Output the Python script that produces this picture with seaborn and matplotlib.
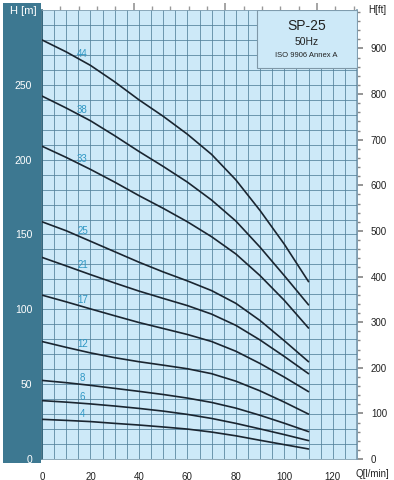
import matplotlib
matplotlib.use("Agg")
import matplotlib.pyplot as plt
from matplotlib.patches import Rectangle
import numpy as np
import pandas as pd
import seaborn as sns

# flow points (l/min) and head (m) per number of stages
flow = [0, 10, 20, 30, 40, 50, 60, 70, 80, 90, 100, 110]
h_44 = [280, 272, 263, 252, 240, 229, 217, 203.5, 186.5, 166, 143.5, 118.5]
h_38 = [242.5, 234.5, 226, 216, 205.5, 195.5, 185, 173, 159, 141.5, 122.5, 103]
h_33 = [209, 201.5, 193.5, 185, 176, 167.5, 158.5, 148.5, 137, 122.5, 106, 87.5]
h_25 = [158.5, 152.5, 145.5, 138.5, 131.5, 125, 119, 112.5, 104, 92.5, 79, 65]
h_21 = [134.7, 129, 123.2, 117.6, 112.2, 107.3, 102.5, 96.8, 89.3, 79.5, 68.5, 57]
h_17 = [109.5, 105, 100.3, 95.7, 91.2, 87.2, 83.2, 78.5, 72, 63.8, 54.7, 45]
h_12 = [78.5, 74.6, 70.9, 67.7, 65, 62.7, 60.3, 57, 52, 45.5, 38, 30]
h_8 = [52.5, 51, 49.2, 47.2, 45.2, 43.1, 40.7, 37.8, 34, 29.2, 23.9, 18.3]
h_6 = [39, 38, 36.8, 35.4, 33.8, 32, 29.8, 27.1, 23.8, 20.1, 16.3, 12.3]
h_4 = [26.5, 25.8, 25, 23.8, 22.7, 21.4, 20, 18, 15.5, 12.5, 9.6, 6.7]

stages = ["44", "38", "33", "25", "21", "17", "12", "8", "6", "4"]
heads = [h_44, h_38, h_33, h_25, h_21, h_17, h_12, h_8, h_6, h_4]

df = pd.DataFrame({
    "Q": flow * len(stages),
    "H": [h for hs in heads for h in hs],
    "stages": [s for s in stages for _ in flow],
})

sns.set_theme(style="white")
plt.rcParams["font.family"] = ["Liberation Sans", "DejaVu Sans"]

W, H = 394, 480
fig = plt.figure(figsize=(W / 100, H / 100), dpi=100)
fig.patch.set_facecolor("white")

# dark strip behind the left axis
fig.patches.append(Rectangle((3 / W, 17 / H), 38 / W, 460 / H, transform=fig.transFigure,
                             facecolor="#3d7891", edgecolor="none", zorder=-5))

ax = fig.add_axes([42 / W, 21 / H, 315 / W, 449 / H])
ax.set_facecolor("#cde9f8")
ax.set_xlim(0, 130)
ax.set_ylim(0, 300)

sns.lineplot(data=df, x="Q", y="H", units="stages", estimator=None,
             color="#1a2530", lw=1.2, ax=ax, zorder=3)

# grid
ax.set_xticks(range(0, 121, 20))
ax.set_xticks(np.arange(0, 130, 5), minor=True)
ax.set_yticks(range(0, 251, 50))
ax.set_yticks(np.arange(0, 300, 10), minor=True)
ax.set_axisbelow(True)
ax.grid(which="both", color="#52809a", lw=0.55)
ax.tick_params(axis="x", which="both", length=0, labelsize=7, pad=9, colors="#222222")
ax.tick_params(axis="y", which="major", length=3, color="#a8c0cc", labelsize=7.5,
               pad=4, labelcolor="white")
ax.tick_params(axis="y", which="minor", length=0)
ax.set_xlabel("")
ax.set_ylabel("")
for side in ["top", "right", "bottom"]:
    ax.spines[side].set_color("#7f9db0")
    ax.spines[side].set_linewidth(0.6)
ax.spines["left"].set_color("#2d5f75")
ax.spines["left"].set_linewidth(1.2)

# stage labels
for s, hs in zip(stages, heads):
    ax.text(16.7, np.interp(16.7, flow, hs) + 4.5, s, color="#2f97c4", fontsize=7,
            ha="center", va="center", zorder=4)

# title box
ax.add_patch(Rectangle((88.8, 261.5), 41.2, 38.5, facecolor="#cde9f8", edgecolor="#7f98a8",
                       lw=0.8, zorder=2))
ax.text(109.2, 289, "SP-25", fontsize=10, ha="center", va="center", color="#222222", zorder=4)
ax.text(109.2, 278.8, "50Hz", fontsize=7.5, ha="center", va="center", color="#222222", zorder=4)
ax.text(109.2, 269.4, "ISO 9906 Annex A", fontsize=5.5, ha="center", va="center",
        color="#222222", zorder=4)

# right axis in feet
axr = ax.secondary_yaxis("right", functions=(lambda m: m * 3.2808, lambda f: f / 3.2808))
axr.set_yticks(range(0, 901, 100))
axr.set_yticks(np.arange(0, 981, 20), minor=True)
axr.tick_params(which="major", length=4, color="#888888", labelsize=7, pad=6,
                labelcolor="#222222")
axr.tick_params(which="minor", length=2.5, color="#888888")
axr.spines["right"].set_color("#7f9db0")

# top axis in US gpm (ticks only)
axt = ax.secondary_xaxis("top", functions=(lambda q: q / 3.785, lambda g: g * 3.785))
axt.set_xticks(range(10, 31, 10))
axt.set_xticks(np.arange(2, 35, 2), minor=True)
axt.set_xticklabels([])
axt.tick_params(which="major", length=5, color="#999999")
axt.tick_params(which="minor", length=3, color="#999999")
axt.spines["top"].set_visible(False)

fig.text(23 / W, 1 - 11 / H, "H [m]", color="white", fontsize=8, ha="center", va="center")
fig.text(377 / W, 1 - 10 / H, "H[ft]", color="#222222", fontsize=7, ha="center", va="center")
fig.text(372 / W, 1 - 474 / H, "Q[l/min]", color="#222222", fontsize=7, ha="center", va="center")

fig.savefig("out.png", dpi=100)
